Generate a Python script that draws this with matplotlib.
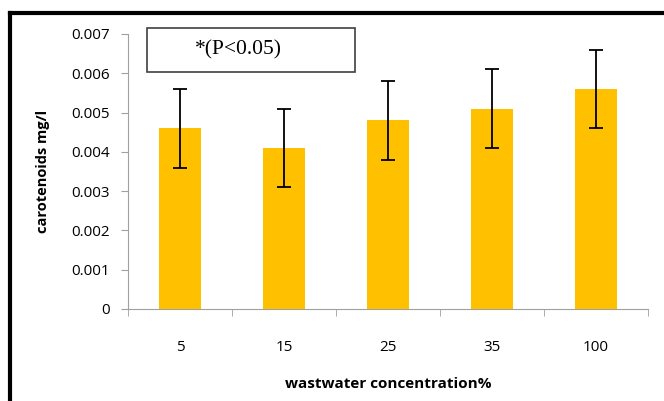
import numpy as np
import matplotlib.pyplot as plt
from matplotlib.lines import Line2D
from matplotlib.patches import Rectangle

# Data
concentrations = ['5', '15', '25', '35', '100']
carotenoids = [0.0046, 0.0041, 0.0048, 0.0051, 0.0056]
errors = [0.001, 0.001, 0.001, 0.001, 0.001]

fig = plt.figure(figsize=(6.64, 4.01), dpi=100)
ax = fig.add_axes([128/664, 1 - 309/401, 520/664, 275/401])

x = np.arange(len(concentrations))
ax.bar(x, carotenoids, width=0.4, color='#FFC000', zorder=2)
ax.errorbar(x, carotenoids, yerr=errors, fmt='none', ecolor='black',
            elinewidth=1.3, capsize=5, capthick=1.3, zorder=3)

ax.set_xlim(-0.5, len(concentrations) - 0.5)
ax.set_ylim(0, 0.007)
ax.set_yticks(np.arange(0, 0.0071, 0.001))
ax.set_yticklabels(['0'] + ['%.3f' % v for v in np.arange(0.001, 0.0071, 0.001)])
ax.set_xticks(x)
ax.set_xticklabels(concentrations)
ax.set_xticks(np.arange(-0.5, len(concentrations)), minor=True)
ax.tick_params(axis='x', which='major', length=0, pad=22)
ax.tick_params(axis='x', which='minor', length=5, color='#A0A0A0')
ax.tick_params(axis='y', length=5, color='#A0A0A0', pad=8)
for lbl in ax.get_xticklabels() + ax.get_yticklabels():
    lbl.set_fontsize(11)
    lbl.set_fontfamily('Open Sans')

for side in ['top', 'right']:
    ax.spines[side].set_visible(False)
for side in ['left', 'bottom']:
    ax.spines[side].set_color('#A0A0A0')

ax.set_ylabel('carotenoids mg/l', fontsize=10.5, fontweight='bold',
              fontfamily='Open Sans', labelpad=15)
ax.set_xlabel('wastwater concentration%', fontsize=11, fontweight='bold',
              fontfamily='Open Sans', labelpad=16)

# significance note box
ax.add_patch(Rectangle((0.0365, 0.862), 0.4, 0.16, transform=ax.transAxes,
                       facecolor='white', edgecolor='#404040', linewidth=1.2,
                       clip_on=False, zorder=4))
ax.text(0.2115, 0.942, '*(P<0.05)', transform=ax.transAxes, ha='center', va='center',
        fontsize=15.5, fontfamily='Liberation Serif', zorder=5)

# outer frame (top and left)
fig.add_artist(Line2D([10/664, 1], [1 - 13/401, 1 - 13/401], color='black', lw=3,
                      transform=fig.transFigure))
fig.add_artist(Line2D([10/664, 10/664], [0, 1 - 13/401], color='black', lw=3,
                      transform=fig.transFigure))

fig.savefig('out.png', dpi=100)
